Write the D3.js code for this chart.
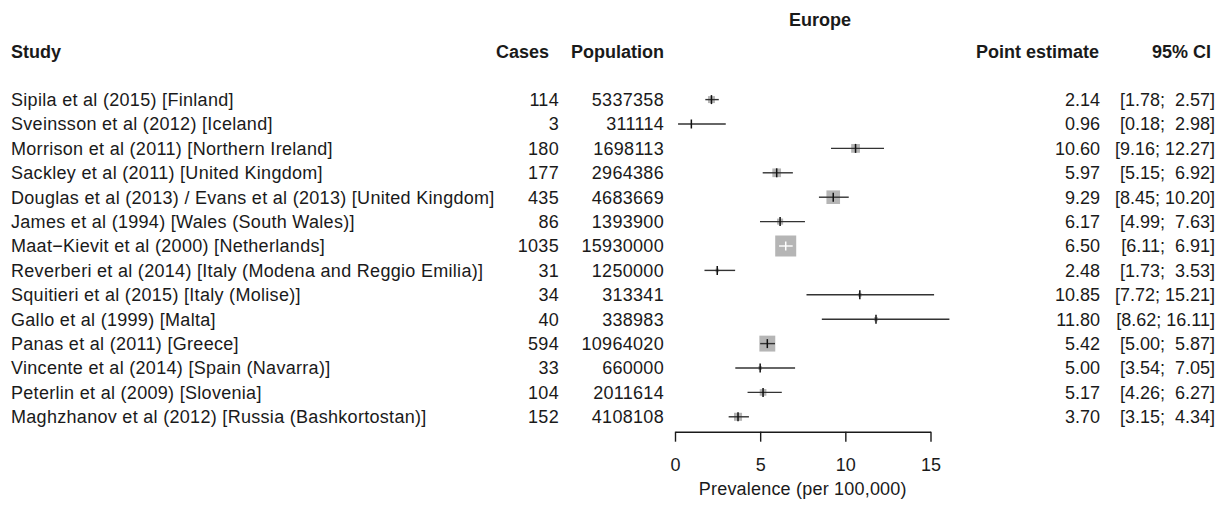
<!DOCTYPE html>
<html>
<head>
<meta charset="utf-8">
<script src="https://cdn.jsdelivr.net/npm/d3@7"></script>
<style>
  body { margin: 0; background: #fff; }
  svg text { font-family: "Liberation Sans", Arial, sans-serif; fill: #1a1a1a; white-space: pre; }
</style>
</head>
<body>
<div class="forest-container"></div>
<script>
const studies = [
    'Sipila et al (2015) [Finland]',
    'Sveinsson et al (2012) [Iceland]',
    'Morrison et al (2011) [Northern Ireland]',
    'Sackley et al (2011) [United Kingdom]',
    'Douglas et al (2013) / Evans et al (2013) [United Kingdom]',
    'James et al (1994) [Wales (South Wales)]',
    'Maat\u2212Kievit et al (2000) [Netherlands]',
    'Reverberi et al (2014) [Italy (Modena and Reggio Emilia)]',
    'Squitieri et al (2015) [Italy (Molise)]',
    'Gallo et al (1999) [Malta]',
    'Panas et al (2011) [Greece]',
    'Vincente et al (2014) [Spain (Navarra)]',
    'Peterlin et al (2009) [Slovenia]',
    'Maghzhanov et al (2012) [Russia (Bashkortostan)]'
];
const cases = [114, 3, 180, 177, 435, 86, 1035, 31, 34, 40, 594, 33, 104, 152];
const population = [5337358, 311114, 1698113, 2964386, 4683669, 1393900, 15930000, 1250000, 313341, 338983, 10964020, 660000, 2011614, 4108108];
const estimate = [2.14, 0.96, 10.60, 5.97, 9.29, 6.17, 6.50, 2.48, 10.85, 11.80, 5.42, 5.00, 5.17, 3.70];
const lower = [1.78, 0.18, 9.16, 5.15, 8.45, 4.99, 6.11, 1.73, 7.72, 8.62, 5.00, 3.54, 4.26, 3.15];
const upper = [2.57, 2.98, 12.27, 6.92, 10.20, 7.63, 6.91, 3.53, 15.21, 16.11, 5.87, 7.05, 6.27, 4.34];
const xTicks = [0, 5, 10, 15];

const width = 1226;
const height = 507;
const fontSize = 18;

const rows = studies.map((study, i) => ({
    study,
    cases: cases[i],
    population: population[i],
    est: estimate[i],
    lo: lower[i],
    hi: upper[i]
}));

const svg = d3.select('.forest-container')
    .append('svg')
    .attr('width', width)
    .attr('height', height);

const x = d3.scaleLinear().domain([0, 15]).range([675, 930.5]);
const y = d3.scaleLinear().domain([0, rows.length - 1]).range([99.6, 416.8]);
// square side grows with the study weight (~ number of cases)
const boxSize = d3.scaleSqrt().domain([0, d3.max(cases)]).range([0, 21]);

const ciText = d => `[${d.lo.toFixed(2).padStart(4)}; ${d.hi.toFixed(2).padStart(5)}]`;

// column headers
const header = svg.append('g')
    .attr('class', 'header')
    .style('font-size', fontSize + 'px')
    .style('font-weight', 'bold');

header.append('text').attr('x', 820).attr('y', 20).attr('dy', '0.35em')
    .attr('text-anchor', 'middle').text('Europe');

[
    { label: 'Study', x: 11, anchor: 'start' },
    { label: 'Cases', x: 549, anchor: 'end' },
    { label: 'Population', x: 664, anchor: 'end' },
    { label: 'Point estimate', x: 1099, anchor: 'end' },
    { label: '95% CI', x: 1211, anchor: 'end' }
].forEach(h => {
    header.append('text')
        .attr('x', h.x)
        .attr('y', 51.5)
        .attr('dy', '0.35em')
        .attr('text-anchor', h.anchor)
        .text(h.label);
});

// table text
const columns = [
    { value: d => d.study, x: 11, anchor: 'start', spacing: 0.3 },
    { value: d => d.cases, x: 559, anchor: 'end', spacing: 0.3 },
    { value: d => d.population, x: 664, anchor: 'end', spacing: 0.3 },
    { value: d => d.est.toFixed(2), x: 1100, anchor: 'end', spacing: 0 },
    { value: ciText, x: 1215, anchor: 'end', spacing: 0 }
];

const table = svg.append('g')
    .attr('class', 'table')
    .style('font-size', fontSize + 'px');

columns.forEach(col => {
    table.selectAll(null)
        .data(rows)
        .enter()
        .append('text')
        .attr('x', col.x)
        .attr('y', (d, i) => y(i))
        .attr('dy', '0.35em')
        .attr('text-anchor', col.anchor)
        .style('letter-spacing', col.spacing + 'px')
        .text(col.value);
});

// study markers
const marks = svg.append('g')
    .attr('class', 'marks')
    .selectAll('g')
    .data(rows)
    .enter()
    .append('g')
    .attr('transform', (d, i) => `translate(0,${y(i)})`);

marks.append('rect')
    .attr('x', d => x(d.est) - boxSize(d.cases) / 2)
    .attr('y', d => -boxSize(d.cases) / 2)
    .attr('width', d => boxSize(d.cases))
    .attr('height', d => boxSize(d.cases))
    .attr('fill', '#b5b5b5');

// CI drawn white when it sits well inside the square
const inside = d => {
    const half = boxSize(d.cases) / 2 - 2;
    return x(d.lo) > x(d.est) - half && x(d.hi) < x(d.est) + half;
};

marks.append('line')
    .attr('x1', d => x(d.lo))
    .attr('x2', d => x(d.hi))
    .attr('stroke', d => inside(d) ? '#fff' : '#333')
    .attr('stroke-width', 1.4);

marks.append('line')
    .attr('x1', d => x(d.est))
    .attr('x2', d => x(d.est))
    .attr('y1', -4.5)
    .attr('y2', 4.5)
    .attr('stroke', d => inside(d) ? '#fff' : '#111')
    .attr('stroke-width', 1.5);

// axis
const axis = svg.append('g')
    .attr('transform', 'translate(0,431.7)')
    .call(d3.axisBottom(x).tickValues(xTicks).tickSize(10).tickSizeOuter(0).tickPadding(17));

axis.attr('font-size', null).attr('font-family', null).style('font-size', fontSize + 'px');
axis.selectAll('path, line').attr('stroke', '#1a1a1a').attr('stroke-width', 1.4);
axis.selectAll('text').attr('fill', null);

svg.append('text')
    .attr('x', x(7.5))
    .attr('y', 495)
    .attr('text-anchor', 'middle')
    .style('font-size', fontSize + 'px')
    .style('letter-spacing', '0.2px')
    .text('Prevalence (per 100,000)');
</script>
</body>
</html>
